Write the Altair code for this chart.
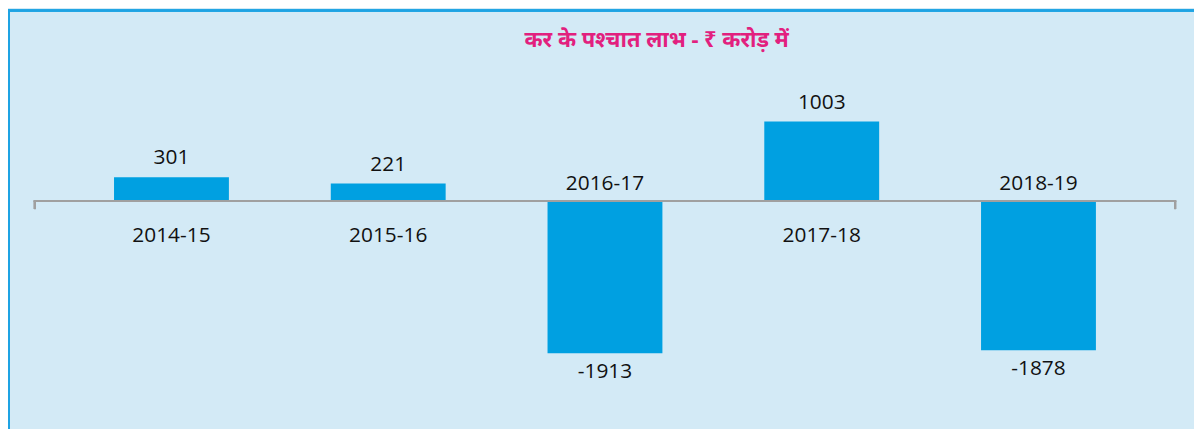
import altair as alt
import pandas as pd

years = ["2014-15", "2015-16", "2016-17", "2017-18", "2018-19"]
profits = [301, 221, -1913, 1003, -1878]
title_text = "कर के पश्चात लाभ - ₹ करोड़ में"

df = pd.DataFrame({"year": years, "value": profits})
df["label"] = df["value"].astype(str)
df["z"] = 0

BG = "#d3eaf6"
BAR = "#00a0e1"
FONT = "Open Sans"
FS = 21
W, H = 1150, 320

x = alt.X("year:N", sort=years, axis=None,
          scale=alt.Scale(paddingInner=0.47, paddingOuter=0.37))
yscale = alt.Scale(domain=[-2500, 1500], nice=False, zero=False)
y = alt.Y("value:Q", axis=None, scale=yscale)
yz = alt.Y("z:Q", axis=None, scale=yscale)

base = alt.Chart(df)

bars = base.mark_bar(color=BAR).encode(x=x, y=y, y2="z:Q")

zero = base.mark_rule(color="#a0a0a0", strokeWidth=2).encode(y=yz)
end_l = base.mark_rule(color="#a0a0a0", strokeWidth=2, y2Offset=8).encode(
    x=alt.value(1), y=yz, y2="z:Q")
end_r = base.mark_rule(color="#a0a0a0", strokeWidth=2, y2Offset=8).encode(
    x=alt.value(W - 1), y=yz, y2="z:Q")

# chart frame (left and top edges), anchored to the zero line
border_l = base.mark_rule(color="#1fa3e3", strokeWidth=2, yOffset=-193, y2Offset=230).encode(
    x=alt.value(-25), y=yz, y2="z:Q")
border_t = base.mark_rule(color="#1fa3e3", strokeWidth=2, yOffset=-192).encode(
    y=yz, x=alt.value(-26), x2=alt.value(W + 18))

pos = base.transform_filter("datum.value >= 0")
neg = base.transform_filter("datum.value < 0")

val_pos = pos.mark_text(font=FONT, fontSize=FS, color="#111111",
                        baseline="middle", dy=-19).encode(x=x, y=y, text="label:N")
val_neg = neg.mark_text(font=FONT, fontSize=FS, color="#111111",
                        baseline="middle", dy=19).encode(x=x, y=y, text="label:N")
cat_pos = pos.mark_text(font=FONT, fontSize=FS, color="#111111",
                        baseline="middle", dy=35).encode(x=x, y=yz, text="year:N")
cat_neg = neg.mark_text(font=FONT, fontSize=FS, color="#111111",
                        baseline="middle", dy=-17).encode(x=x, y=yz, text="year:N")

chart = alt.layer(
    bars, zero, end_l, end_r, val_pos, val_neg, cat_pos, cat_neg, border_l, border_t
).properties(
    width=W, height=H,
    background=BG,
    padding={"left": 26, "top": 73, "right": 18, "bottom": 28},
    autosize=alt.AutoSizeParams(type="none"),
    title=alt.TitleParams(title_text, color="#e2207e", font="Noto Sans",
                          fontSize=22, fontWeight="bold", anchor="middle",
                          frame="group", dx=52, offset=-44),
).configure_view(stroke=None)

chart.save("out.html", embed_options={"renderer": "svg", "actions": False})
